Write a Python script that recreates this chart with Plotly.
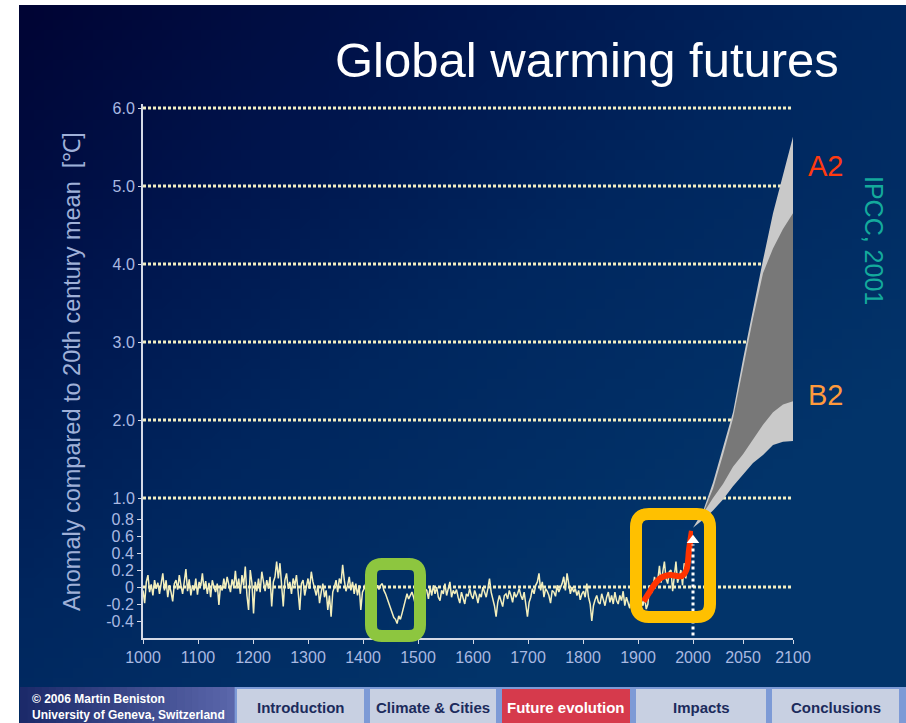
import base64
import struct
import zlib

import plotly.graph_objects as go

# ---------------------------------------------------------------------------
# Data
# ---------------------------------------------------------------------------
# Reconstructed Northern Hemisphere anomaly, 3-year steps from 1000 to 1996
paleo_years = list(range(1000, 1997, 3))
paleo_anomaly = [
    -0.04, -0.19, 0.06, 0.14, -0.06, 0.03, -0.10, 0.08, -0.02, 0.05,
    -0.08, 0.04, 0.16, -0.04, 0.08, -0.12, 0.02, -0.06, -0.17, 0.04,
    0.08, -0.03, 0.14, 0.02, -0.08, 0.06, 0.21, -0.05, 0.09, -0.10,
    0.02, -0.04, 0.10, -0.09, 0.06, 0.01, 0.16, -0.03, 0.07, -0.08,
    0.05, -0.12, 0.08, 0.00, -0.06, 0.04, -0.21, 0.02, -0.04, 0.10,
    -0.02, 0.12, 0.03, -0.06, 0.09, 0.00, 0.19, -0.02, 0.10, -0.08,
    0.14, 0.02, 0.24, -0.10, -0.27, 0.20, 0.05, -0.31, 0.06, -0.05,
    0.10, -0.06, 0.18, 0.04, -0.05, 0.08, -0.02, 0.12, -0.23, 0.06,
    0.12, 0.30, 0.10, 0.28, -0.04, -0.23, 0.08, 0.16, -0.02, 0.06,
    -0.08, 0.10, 0.02, 0.14, -0.05, -0.27, 0.04, 0.08, -0.10, 0.02,
    0.10, -0.02, 0.18, 0.06, -0.04, -0.10, 0.02, -0.19, -0.06, 0.04,
    -0.12, -0.04, -0.27, -0.10, -0.35, -0.06, 0.00, 0.08, -0.06, 0.10,
    0.04, 0.26, 0.08, -0.05, 0.02, 0.12, -0.04, 0.06, -0.08, 0.04,
    -0.10, 0.02, -0.27, -0.06, -0.02, 0.04, -0.08, -0.02, 0.03, -0.09,
    0.04, -0.06, 0.02, -0.03, 0.02, 0.04, -0.04, -0.08, -0.14, -0.20,
    -0.24, -0.30, -0.36, -0.38, -0.43, -0.34, -0.38, -0.31, -0.24, -0.18,
    -0.08, -0.14, -0.10, -0.06, -0.12, -0.20, -0.08, -0.02, -0.06, 0.02,
    -0.10, -0.02, -0.04, -0.14, 0.00, -0.10, 0.02, -0.08, 0.00, -0.12,
    -0.16, -0.04, -0.08, 0.04, -0.10, -0.02, 0.06, -0.12, -0.04, -0.08,
    -0.03, -0.12, -0.19, -0.06, -0.14, -0.20, -0.08, -0.11, -0.02, -0.10,
    -0.14, -0.04, -0.10, -0.19, -0.08, -0.12, 0.00, -0.06, -0.12, -0.02,
    0.10, -0.06, -0.14, -0.22, -0.35, -0.18, -0.10, -0.16, -0.23, -0.10,
    -0.08, -0.14, -0.04, -0.10, -0.18, -0.06, -0.12, -0.08, -0.02, -0.10,
    -0.15, -0.06, -0.20, -0.35, -0.18, -0.12, -0.02, -0.08, 0.02, 0.06,
    0.16, -0.04, 0.06, -0.12, -0.02, -0.05, -0.10, -0.19, -0.04, -0.06,
    -0.11, 0.02, -0.06, -0.02, 0.04, 0.12, -0.04, 0.16, 0.02, -0.08,
    0.00, -0.06, -0.02, -0.10, -0.04, -0.15, -0.08, -0.05, -0.12, 0.04,
    -0.12, -0.20, -0.40, -0.22, -0.15, -0.10, -0.18, -0.20, -0.08, -0.14,
    -0.22, -0.12, -0.06, -0.18, -0.10, -0.20, -0.06, -0.16, -0.20, -0.10,
    -0.16, -0.05, -0.22, -0.12, -0.18, -0.25, -0.10, -0.20, -0.14, -0.24,
    -0.20, -0.30, -0.14, -0.22, -0.12, -0.26, -0.20, 0.02, -0.08, -0.02,
    0.12, 0.02, 0.08, 0.25, 0.05, 0.16, 0.30, 0.10, 0.04, 0.18,
    0.20, -0.05, 0.10, 0.30, 0.05, 0.14, 0.20, 0.02, 0.28, 0.10,
    0.35, 0.48, 0.64,
]

# Smoothed instrumental record (20th century)
instrumental_years = [1910, 1920, 1930, 1940, 1950, 1960, 1970, 1980, 1988, 1993, 1998]
instrumental_smooth = [-0.17, -0.07, 0.03, 0.10, 0.13, 0.14, 0.13, 0.13, 0.20, 0.45, 0.66]

# Projected warming ranges to 2100
scenario_years = [2000, 2010, 2020, 2030, 2040, 2050, 2060, 2070, 2080, 2090, 2100]
full_range_high = [0.62, 0.83, 1.20, 1.65, 2.10, 2.78, 3.42, 4.05, 4.65, 5.15, 5.63]
full_range_low = [0.62, 0.72, 0.84, 0.98, 1.15, 1.30, 1.45, 1.55, 1.68, 1.72, 1.73]
core_range_high = [0.62, 0.80, 1.12, 1.55, 2.02, 2.68, 3.30, 3.88, 4.20, 4.45, 4.65]
core_range_low = [0.62, 0.80, 1.00, 1.18, 1.40, 1.56, 1.75, 1.94, 2.10, 2.20, 2.24]

# Axis ticks
past_ticks = [1000, 1100, 1200, 1300, 1400, 1500, 1600, 1700, 1800, 1900]
future_ticks = [2000, 2050, 2100]
low_ticks = [-0.4, -0.2, 0, 0.2, 0.4, 0.6, 0.8]
low_labels = ["-0.4", "-0.2", "0", "0.2", "0.4", "0.6", "0.8"]
high_ticks = [1, 2, 3, 4, 5, 6]
high_labels = ["1.0", "2.0", "3.0", "4.0", "5.0", "6.0"]

nav_items = ["Introduction", "Climate & Cities", "Future evolution", "Impacts", "Conclusions"]
nav_active = "Future evolution"

# ---------------------------------------------------------------------------
# Page geometry (pixels)
# ---------------------------------------------------------------------------
W, H = 906, 723
PL, PR, PT, PB = 143, 793, 104, 638
SPLIT = 550 / 650          # where the 1000-2000 axis hands over to 2000-2100


def px(x):
    return (x - PL) / (PR - PL)


def py(y):
    return (PB - y) / (PB - PT)


def gradient_png(w, h):
    stops = [(0.0, (0, 4, 52)), (0.3, (0, 20, 76)), (0.6, (0, 38, 94)), (1.0, (2, 52, 106))]

    def colour(t):
        for (t0, c0), (t1, c1) in zip(stops, stops[1:]):
            if t <= t1:
                f = (t - t0) / (t1 - t0)
                return tuple(int(round(a + (b - a) * f)) for a, b in zip(c0, c1))
        return stops[-1][1]

    raw = bytearray()
    for j in range(h):
        raw.append(0)
        for i in range(w):
            t = min(1.0, 0.62 * i / (w - 1) + 0.72 * j / (h - 1))
            raw.extend(colour(t))

    def chunk(tag, data):
        return (struct.pack(">I", len(data)) + tag + data
                + struct.pack(">I", zlib.crc32(tag + data) & 0xFFFFFFFF))

    png = (b"\x89PNG\r\n\x1a\n"
           + chunk(b"IHDR", struct.pack(">IIBBBBB", w, h, 8, 2, 0, 0, 0))
           + chunk(b"IDAT", zlib.compress(bytes(raw), 9))
           + chunk(b"IEND", b""))
    return "data:image/png;base64," + base64.b64encode(png).decode()


def rounded_rect(x0, y0, x1, y1, r):
    X = lambda v: f"{px(v):.5f}"
    Y = lambda v: f"{py(v):.5f}"
    return (f"M {X(x0 + r)},{Y(y0)} L {X(x1 - r)},{Y(y0)} "
            f"Q {X(x1)},{Y(y0)} {X(x1)},{Y(y0 + r)} L {X(x1)},{Y(y1 - r)} "
            f"Q {X(x1)},{Y(y1)} {X(x1 - r)},{Y(y1)} L {X(x0 + r)},{Y(y1)} "
            f"Q {X(x0)},{Y(y1)} {X(x0)},{Y(y1 - r)} L {X(x0)},{Y(y0 + r)} "
            f"Q {X(x0)},{Y(y0)} {X(x0 + r)},{Y(y0)} Z")


FONT = "Liberation Sans, Arial, sans-serif"
LABEL = "#a9b9e2"
AXIS = "#d4d9e6"
DOTS = "#f2eec2"

fig = go.Figure()

# Projection envelopes
fig.add_trace(go.Scatter(
    x=scenario_years + scenario_years[::-1],
    y=full_range_high + full_range_low[::-1],
    xaxis="x2", yaxis="y2", mode="lines", fill="toself",
    fillcolor="#c9c9c9", line=dict(width=0, color="#c9c9c9"), hoverinfo="skip"))
fig.add_trace(go.Scatter(
    x=scenario_years + scenario_years[::-1],
    y=core_range_high + core_range_low[::-1],
    xaxis="x2", yaxis="y2", mode="lines", fill="toself",
    fillcolor="#787878", line=dict(width=0, color="#787878"), hoverinfo="skip"))

# Millennial record
fig.add_trace(go.Scatter(
    x=paleo_years, y=paleo_anomaly, xaxis="x", yaxis="y", mode="lines",
    line=dict(color="#f3efbd", width=1.5), hoverinfo="skip"))

# Smoothed instrumental curve
fig.add_trace(go.Scatter(
    x=instrumental_years, y=instrumental_smooth, xaxis="x", yaxis="y", mode="lines",
    line=dict(color="#ff3300", width=6, shape="spline"), hoverinfo="skip"))

# Arrow head marking the year 2000
fig.add_trace(go.Scatter(
    x=[2000], y=[0.55], xaxis="x", yaxis="y", mode="markers", cliponaxis=False,
    marker=dict(symbol="triangle-up", size=11, color="white"), hoverinfo="skip"))

shapes = []
# Dotted reference lines
for v in high_ticks:
    shapes.append(dict(type="line", xref="paper", yref="y2", x0=0, x1=1, y0=v, y1=v,
                       line=dict(color=DOTS, width=3, dash="3px,2px"), layer="below"))
shapes.append(dict(type="line", xref="paper", yref="y", x0=0, x1=1, y0=0, y1=0,
                   line=dict(color=DOTS, width=3, dash="3px,2px"), layer="below"))
# Vertical dotted stem at 2000
shapes.append(dict(type="line", xref="paper", yref="y", x0=SPLIT, x1=SPLIT, y0=-0.57, y1=0.5,
                   line=dict(color="white", width=3, dash="3px,3px"), layer="above"))
# Highlight boxes
shapes.append(dict(type="path", xref="paper", yref="paper", path=rounded_rect(371, 564, 420, 636, 11),
                   line=dict(color="#8dc63f", width=12), layer="above"))
shapes.append(dict(type="path", xref="paper", yref="paper", path=rounded_rect(636, 514, 710, 617, 13),
                   line=dict(color="#ffc000", width=12), layer="above"))

# Navigation bar
BAR_T, BAR_B = 687, 723
shapes.append(dict(type="rect", xref="paper", yref="paper", x0=px(234), x1=px(906),
                   y0=py(BAR_B), y1=py(BAR_T), fillcolor="#7d9ad6", line=dict(width=0)))
n_strips = 30
for k in range(n_strips):
    f = k / (n_strips - 1)
    c = (int(28 + 62 * f), int(42 + 60 * f), int(106 + 64 * f))
    shapes.append(dict(type="rect", xref="paper", yref="paper",
                       x0=px(20 + 214 * k / n_strips), x1=px(20 + 214 * (k + 1) / n_strips) + 0.001,
                       y0=py(BAR_B), y1=py(BAR_T), fillcolor=f"rgb{c}", line=dict(width=0)))
nav_spans = [(237, 364), (370, 496), (502, 630), (636, 766), (772, 899)]
annotations = []
for label, (a, b) in zip(nav_items, nav_spans):
    active = label == nav_active
    shapes.append(dict(type="rect", xref="paper", yref="paper", x0=px(a), x1=px(b),
                       y0=py(BAR_B), y1=py(BAR_T + 2),
                       fillcolor="#d63a4c" if active else "#c8d0e2", line=dict(width=0)))
    annotations.append(dict(xref="paper", yref="paper", x=px((a + b) / 2), y=py(707),
                            text=f"<b>{label}</b>", showarrow=False, xanchor="center", yanchor="middle",
                            font=dict(family=FONT, size=15,
                                      color="white" if active else "#1c2b5c")))

annotations += [
    dict(xref="paper", yref="paper", x=px(30), y=py(699), xanchor="left", yanchor="middle",
         text="<b>© 2006 Martin Beniston</b>", showarrow=False,
         font=dict(family=FONT, size=12, color="white")),
    dict(xref="paper", yref="paper", x=px(30), y=py(715), xanchor="left", yanchor="middle",
         text="<b>University of Geneva, Switzerland</b>", showarrow=False,
         font=dict(family=FONT, size=12, color="white")),
    dict(xref="paper", yref="paper", x=px(333), y=py(60), xanchor="left", yanchor="middle",
         text="Global warming futures", showarrow=False,
         font=dict(family=FONT, size=49, color="white")),
    dict(xref="paper", yref="paper", x=px(72), y=py(372), xanchor="center", yanchor="middle",
         text="Anomaly compared to 20th century mean  [℃]", textangle=-90, showarrow=False,
         font=dict(family=FONT, size=23.5, color="#9fb0d8")),
    dict(xref="paper", yref="paper", x=px(826), y=py(166), xanchor="center", yanchor="middle",
         text="A2", showarrow=False, font=dict(family=FONT, size=29, color="#ff3a10")),
    dict(xref="paper", yref="paper", x=px(826), y=py(395), xanchor="center", yanchor="middle",
         text="B2", showarrow=False, font=dict(family=FONT, size=29, color="#ff9a3c")),
    dict(xref="paper", yref="paper", x=px(874), y=py(240), xanchor="center", yanchor="middle",
         text="IPCC, 2001", textangle=90, showarrow=False,
         font=dict(family=FONT, size=25, color="#14aa9c")),
]

axis_common = dict(showgrid=False, zeroline=False, showline=True, linecolor=AXIS, linewidth=1.5,
                   ticks="outside", ticklen=4, tickcolor=AXIS,
                   tickfont=dict(family=FONT, size=16, color=LABEL), fixedrange=True)

fig.update_layout(
    width=W, height=H, autosize=False,
    margin=dict(l=PL, r=W - PR, t=PT, b=H - PB, pad=0),
    paper_bgcolor="white", plot_bgcolor="rgba(0,0,0,0)",
    showlegend=False, hovermode=False,
    images=[dict(source=gradient_png(90, 72), xref="paper", yref="paper",
                 x=px(19), y=py(5), sizex=(W - 19) / (PR - PL), sizey=(H - 5) / (PB - PT),
                 xanchor="left", yanchor="top", sizing="stretch", layer="below")],
    xaxis=dict(domain=[0, SPLIT], range=[1000, 2000], tickvals=past_ticks, anchor="y", **axis_common),
    xaxis2=dict(domain=[SPLIT, 1], range=[2000, 2100], tickvals=future_ticks, anchor="y", **axis_common),
    yaxis=dict(domain=[0, 1], range=[-0.6, (587 - PT) / 85], tickvals=low_ticks, ticktext=low_labels,
               anchor="x", **{**axis_common, "linewidth": 2}),
    yaxis2=dict(domain=[0, 1], range=[1 - (PB - 498) / 78, 6 + (108 - PT) / 78], tickvals=high_ticks,
                ticktext=high_labels, overlaying="y", side="left", anchor="x",
                **{**axis_common, "showline": False}),
    shapes=shapes,
    annotations=annotations,
)

fig.write_html("out.html")
